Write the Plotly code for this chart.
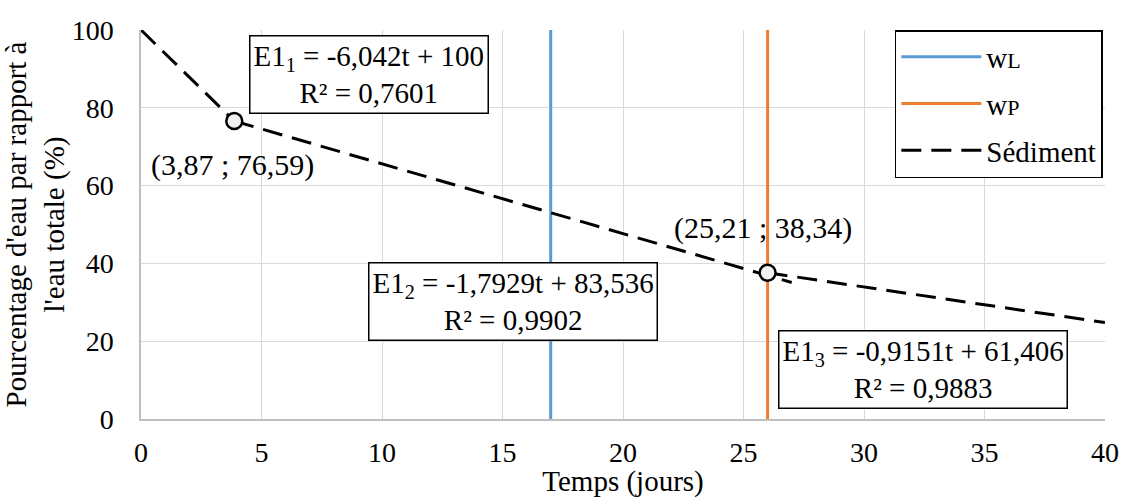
import plotly.graph_objects as go

# Data
seg1_x = [0, 3.87]
seg1_y = [100, 76.59]
seg2_x = [3.87, 27.0]
seg2_y = [76.59, 35.1]
seg3_x = [26.0, 40.0]
seg3_y = [37.6, 24.8]
break_x = [3.87, 26.0]
break_y = [76.59, 37.6]
wl_x = 17
wp_x = 26

FONT = "Liberation Serif"
BLACK = "#000000"
BLUE = "#5B9BD5"
ORANGE = "#ED7D31"

fig = go.Figure()

fig.add_trace(go.Scatter(x=[wl_x, wl_x], y=[0, 100], mode="lines",
                         line=dict(color=BLUE, width=3),
                         name="w<span style='font-size:22px'>L</span>", legendgroup="a"))
fig.add_trace(go.Scatter(x=[wp_x, wp_x], y=[0, 100], mode="lines",
                         line=dict(color=ORANGE, width=3),
                         name="w<span style='font-size:22px'>P</span>", legendgroup="b"))
dash = "20px,10px"
fig.add_trace(go.Scatter(x=seg1_x, y=seg1_y, mode="lines",
                         line=dict(color=BLACK, width=3, dash=dash),
                         name="Sédiment", legendgroup="c"))
fig.add_trace(go.Scatter(x=seg2_x, y=seg2_y, mode="lines",
                         line=dict(color=BLACK, width=3, dash=dash),
                         showlegend=False, legendgroup="c"))
fig.add_trace(go.Scatter(x=seg3_x, y=seg3_y, mode="lines",
                         line=dict(color=BLACK, width=3, dash=dash),
                         showlegend=False, legendgroup="c"))
fig.add_trace(go.Scatter(x=break_x, y=break_y, mode="markers",
                         marker=dict(size=16, color="#F2F2F2", line=dict(color=BLACK, width=2.5)),
                         showlegend=False))

box = dict(bgcolor="white", bordercolor=BLACK, borderwidth=1.5, borderpad=3,
           showarrow=False, font=dict(family=FONT, size=29, color=BLACK))
fig.add_annotation(x=9.48, y=88.6, text="E1<sub>1</sub> = -6,042t + 100<br>R² = 0,7601", **box)
fig.add_annotation(x=15.44, y=30.3, text="E1<sub>2</sub> = -1,7929t + 83,536<br>R² = 0,9902", **box)
fig.add_annotation(x=32.45, y=12.6, text="E1<sub>3</sub> = -0,9151t + 61,406<br>R² = 0,9883", **box)
fig.add_annotation(x=3.78, y=65.3, text="(3,87 ; 76,59)", showarrow=False,
                   font=dict(family=FONT, size=30, color=BLACK))
fig.add_annotation(x=25.8, y=49.1, text="(25,21 ; 38,34)", showarrow=False,
                   font=dict(family=FONT, size=30, color=BLACK))

fig.update_layout(
    width=1122, height=498,
    margin=dict(l=141, r=17, t=30, b=79, autoexpand=False),
    paper_bgcolor="white", plot_bgcolor="white",
    font=dict(family=FONT, size=28, color=BLACK),
    showlegend=True,
    legend=dict(x=0.782, y=1.0, xanchor="left", yanchor="top",
                bgcolor="white", bordercolor=BLACK, borderwidth=1.5,
                font=dict(family=FONT, size=29, color=BLACK),
                itemwidth=80, tracegroupgap=6),
)
fig.update_xaxes(range=[0, 40], dtick=5, showgrid=True, gridcolor="#D9D9D9", gridwidth=1,
                 showline=True, linecolor="#BFBFBF", linewidth=1.5, zeroline=False,
                 ticks="", ticklabelstandoff=8, automargin=True,
                 tickfont=dict(family=FONT, size=28),
                 title=dict(text="Temps (jours)", font=dict(family=FONT, size=29), standoff=4))
fig.update_yaxes(range=[0, 100], dtick=20, showgrid=True, gridcolor="#D9D9D9", gridwidth=1,
                 showline=True, linecolor="#BFBFBF", linewidth=1.5, zeroline=False,
                 ticks="", ticklabelstandoff=20, automargin=False,
                 tickfont=dict(family=FONT, size=28),
                 title=dict(text="Pourcentage d'eau par rapport à<br>l'eau totale (%)",
                            font=dict(family=FONT, size=29), standoff=8))

fig.write_html("out.html", config={"displayModeBar": False},
               post_script="document.body.style.margin='0';document.body.style.overflow='hidden';")
